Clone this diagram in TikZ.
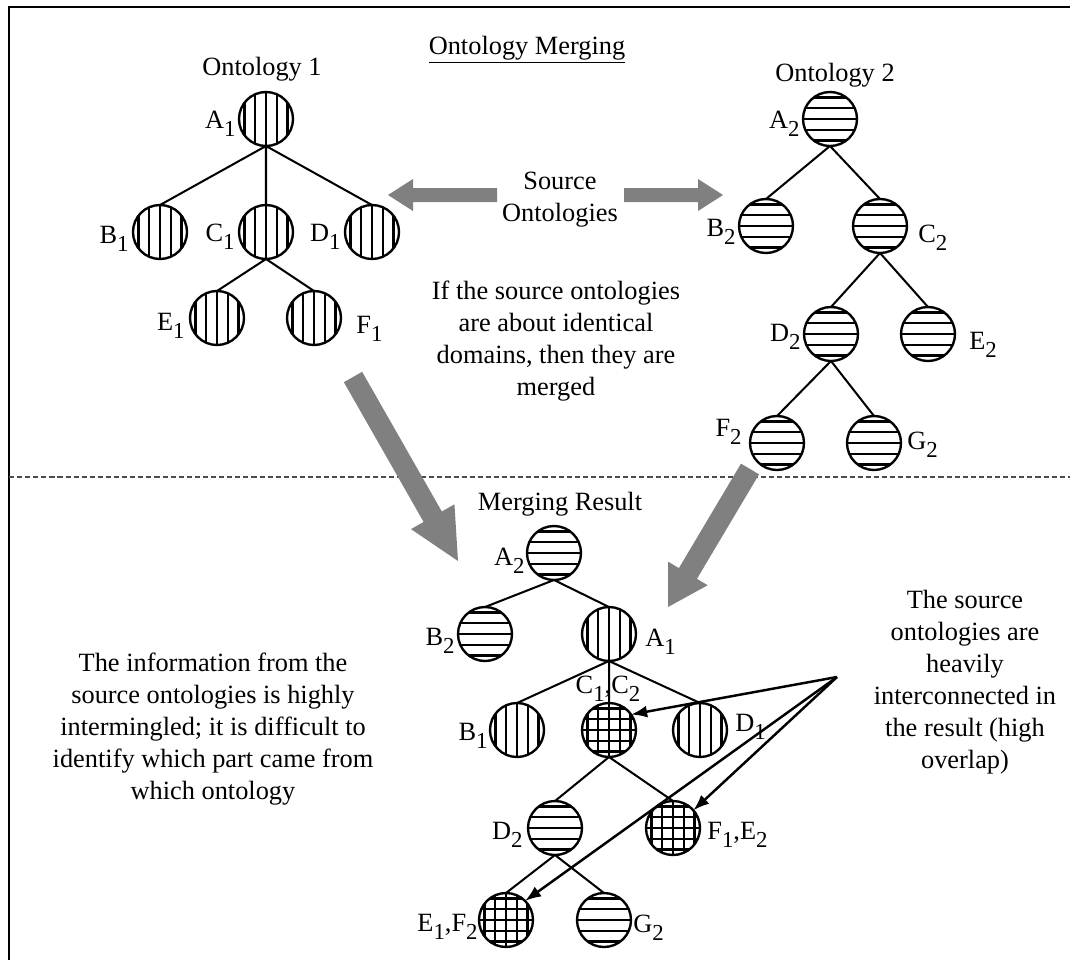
\documentclass[tikz,border=0pt]{standalone}
\usepackage{fontspec}
\setmainfont{Liberation Serif}
\usetikzlibrary{calc,arrows.meta}
\definecolor{arrowgray}{RGB}{128,128,128}
% lowered digit used for the concept indices
\newcommand\idx[1]{\raisebox{-0.33em}{\fontsize{13}{13}\selectfont #1}}
% hatching drawn inside a concept circle
\newcommand\vhatch{\foreach \hh in {-0.43,-0.215,0,0.215,0.43}{\draw[line width=1.35pt] ([shift={(\hh cm,-0.6cm)}]path picture bounding box.center) -- ++(0cm,1.2cm);}}
\newcommand\hhatch{\foreach \hh in {-0.43,-0.215,0,0.215,0.43}{\draw[line width=1.35pt] ([shift={(-0.6cm,\hh cm)}]path picture bounding box.center) -- ++(1.2cm,0cm);}}
% gray block arrow: tail, tip, half shaft, head length, half head width
\newcommand\blockarrow[5]{%
  \path ($(#2)!#4!(#1)$) coordinate (hb);
  \fill[arrowgray] ($(#1)!#3!90:(#2)$) -- ($(hb)!#3!90:(#2)$) -- ($(hb)!#5!90:(#2)$) -- (#2)
    -- ($(hb)!#5!-90:(#2)$) -- ($(hb)!#3!-90:(#2)$) -- ($(#1)!#3!-90:(#2)$) -- cycle;}
\tikzset{
  ent/.style={circle, draw, line width=1.35pt, minimum size=1.08cm, inner sep=0pt, outer sep=0pt},
  vnode/.style={ent, path picture=\vhatch},
  hnode/.style={ent, path picture=\hhatch},
  gnode/.style={ent, path picture={\vhatch\hhatch}},
  edge/.style={line width=1.15pt},
  lbl/.style={inner sep=0pt},
  txt/.style={inner sep=0pt, align=center},
  link/.style={line width=1.4pt, -{Latex[length=0.32cm,width=0.24cm]}}
}
\begin{document}
\begin{tikzpicture}[x=0.02cm, y=-0.02cm, font=\fontsize{15}{18.2}\selectfont]
\useasboundingbox (0,0) rectangle (1070,960);
% frame and separator
\draw[line width=1.3pt] (9,960) -- (9,7) -- (1070,7);
\draw[line width=0.7pt, black!70, dash pattern=on 2.9pt off 1.7pt] (9,477) -- (1070,477);

% headings
\node[txt, anchor=base] (title) at (527,54) {\underline{Ontology Merging}};
\node[txt, anchor=base] (o1) at (262,75) {Ontology 1};
\node[txt, anchor=base] (o2) at (835,81) {Ontology 2};
\node[txt, anchor=base] (mr) at (560,510) {Merging Result};

% Ontology 1
\node[vnode] (A1) at (266,119) {};
\node[vnode] (B1) at (160,232) {};
\node[vnode] (C1) at (266,232) {};
\node[vnode] (D1) at (372,232) {};
\node[vnode] (E1) at (217,318) {};
\node[vnode] (F1) at (314,318) {};
\draw[edge] (A1.south) -- (B1.north) (A1.south) -- (C1.north) (A1.south) -- (D1.north)
            (C1.south) -- (E1.north) (C1.south) -- (F1.north);
\node[lbl, anchor=base east] (lA1) at ($(A1.west)+(-3,9)$) {A\idx{1}};
\node[lbl, anchor=base east] (lB1) at ($(B1.west)+(-4,11)$) {B\idx{1}};
\node[lbl, anchor=base east] (lC1) at ($(C1.west)+(-4,9)$) {C\idx{1}};
\node[lbl, anchor=base east] (lD1) at ($(D1.west)+(-4,9)$) {D\idx{1}};
\node[lbl, anchor=base east] (lE1) at ($(E1.west)+(-5,12)$) {E\idx{1}};
\node[lbl, anchor=base west] (lF1) at ($(F1.east)+(15,15)$) {F\idx{1}};

% Ontology 2
\node[hnode] (A2) at (830,119) {};
\node[hnode] (B2) at (766,226) {};
\node[hnode] (C2) at (880,226) {};
\node[hnode] (D2) at (831,334) {};
\node[hnode] (E2) at (928,334) {};
\node[hnode] (F2) at (777,443) {};
\node[hnode] (G2) at (874,443) {};
\draw[edge] (A2.south) -- (B2.north) (A2.south) -- (C2.north)
            (C2.south) -- (D2.north) (C2.south) -- (E2.north)
            (D2.south) -- (F2.north) (D2.south) -- (G2.north);
\node[lbl, anchor=base east] (lA2) at ($(A2.west)+(-3,9)$) {A\idx{2}};
\node[lbl, anchor=base east] (lB2) at ($(B2.west)+(-3,10)$) {B\idx{2}};
\node[lbl, anchor=base west] (lC2) at ($(C2.east)+(11,16)$) {C\idx{2}};
\node[lbl, anchor=base east] (lD2) at ($(D2.west)+(-3,7)$) {D\idx{2}};
\node[lbl, anchor=base west] (lE2) at ($(E2.east)+(14,15)$) {E\idx{2}};
\node[lbl, anchor=base east] (lF2) at ($(F2.west)+(-8,-7)$) {F\idx{2}};
\node[lbl, anchor=base west] (lG2) at ($(G2.east)+(6,6)$) {G\idx{2}};

% Merged ontology
\node[hnode] (mA2) at (554,553) {};
\node[hnode] (mB2) at (485,634) {};
\node[vnode] (mA1) at (609,634) {};
\node[vnode] (mB1) at (517,730) {};
\node[gnode] (mC12) at (609,730) {};
\node[vnode] (mD1) at (700,730) {};
\node[hnode] (mD2) at (555,828) {};
\node[gnode] (mF1E2) at (673,828) {};
\node[gnode] (mE1F2) at (506,920) {};
\node[hnode] (mG2) at (604,920) {};
\draw[edge] (mA2.south) -- (mB2.north) (mA2.south) -- (mA1.north)
            (mA1.south) -- (mB1.north) (mA1.south) -- (mC12.north) (mA1.south) -- (mD1.north)
            (mC12.south) -- (mD2.north) (mC12.south) -- (mF1E2.north)
            (mD2.south) -- (mE1F2.north) (mD2.south) -- (mG2.north);
\node[lbl, anchor=base east] (lmA2) at ($(mA2.west)+(-2,12)$) {A\idx{2}};
\node[lbl, anchor=base east] (lmB2) at ($(mB2.west)+(-3,11)$) {B\idx{2}};
\node[lbl, anchor=base west] (lmA1) at ($(mA1.east)+(9,12)$) {A\idx{1}};
\node[lbl, anchor=base east] (lmB1) at ($(mB1.west)+(-2,10)$) {B\idx{1}};
\node[lbl, anchor=base] (lmC12) at ($(mC12.north)+(-1,-10)$) {C\idx{1},C\idx{2}};
\node[lbl, anchor=base west] (lmD1) at ($(mD1.east)+(8,1)$) {D\idx{1}};
\node[lbl, anchor=base east] (lmD2) at ($(mD2.west)+(-5,11)$) {D\idx{2}};
\node[lbl, anchor=base west] (lmF1E2) at ($(mF1E2.east)+(7,11)$) {F\idx{1},E\idx{2}};
\node[lbl, anchor=base east] (lmE1F2) at ($(mE1F2.west)+(-1,11)$) {E\idx{1},F\idx{2}};
\node[lbl, anchor=base west] (lmG2) at ($(mG2.east)+(2,12)$) {G\idx{2}};

% gray flow arrows
\coordinate (sL0) at (497,195); \coordinate (sL1) at (388,195);
\coordinate (sR0) at (624,195); \coordinate (sR1) at (723,195);
\coordinate (bL0) at (353,377); \coordinate (bL1) at (458,561);
\coordinate (bR0) at (750,469); \coordinate (bR1) at (668,607);
\blockarrow{sL0}{sL1}{0.14cm}{0.5cm}{0.32cm}
\blockarrow{sR0}{sR1}{0.14cm}{0.5cm}{0.32cm}
\blockarrow{bL0}{bL1}{0.21cm}{1.02cm}{0.5cm}
\blockarrow{bR0}{bR1}{0.21cm}{0.78cm}{0.46cm}

% explanatory texts
\node[txt] (src) at (560,200) {Source\\Ontologies};
\node[txt] (cond) at (556,341) {If the source ontologies\\are about identical\\domains, then they are\\merged};
\node[txt] (mix) at (213,729) {The information from the\\source ontologies is highly\\intermingled; it is difficult to\\identify which part came from\\which ontology};
\node[txt] (ovl) at (965,682) {The source\\ontologies are\\heavily\\interconnected in\\the result (high\\overlap)};

% overlap pointers
\coordinate (hub) at (837,677);
\draw[link] (hub) -- (mC12.35);
\draw[link] (hub) -- (mF1E2.41);
\draw[link] (hub) -- (mE1F2.45);
\end{tikzpicture}
\end{document}
